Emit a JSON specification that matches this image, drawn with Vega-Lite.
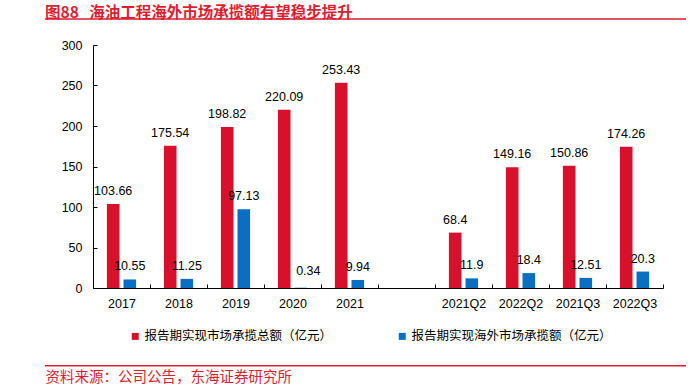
{
  "$schema": "https://vega.github.io/schema/vega-lite/v6.json",
  "autosize": {"type": "none"},
  "padding": {"left": 93, "top": 45, "right": 28, "bottom": 97},
  "width": 570,
  "height": 243,
  "background": "#ffffff",
  "config": {"view": {"stroke": null}},
  "title": {
    "text": "图88\u00a0\u00a0\u00a0海油工程海外市场承揽额有望稳步提升",
    "anchor": "start",
    "frame": "group",
    "dx": -48,
    "dy": 22,
    "offset": 7,
    "baseline": "alphabetic",
    "color": "#dc1e32",
    "font": "Noto Sans CJK SC",
    "fontSize": 15.5,
    "fontWeight": "bold"
  },
  "data": {
    "values": [
      {"period": "2017", "series": "报告期实现市场承揽总额（亿元）", "value": 103.66},
      {"period": "2017", "series": "报告期实现海外市场承揽额（亿元）", "value": 10.55},
      {"period": "2018", "series": "报告期实现市场承揽总额（亿元）", "value": 175.54},
      {"period": "2018", "series": "报告期实现海外市场承揽额（亿元）", "value": 11.25},
      {"period": "2019", "series": "报告期实现市场承揽总额（亿元）", "value": 198.82},
      {"period": "2019", "series": "报告期实现海外市场承揽额（亿元）", "value": 97.13},
      {"period": "2020", "series": "报告期实现市场承揽总额（亿元）", "value": 220.09},
      {"period": "2020", "series": "报告期实现海外市场承揽额（亿元）", "value": 0.34},
      {"period": "2021", "series": "报告期实现市场承揽总额（亿元）", "value": 253.43},
      {"period": "2021", "series": "报告期实现海外市场承揽额（亿元）", "value": 9.94},
      {"period": "2021Q2", "series": "报告期实现市场承揽总额（亿元）", "value": 68.4},
      {"period": "2021Q2", "series": "报告期实现海外市场承揽额（亿元）", "value": 11.9},
      {"period": "2022Q2", "series": "报告期实现市场承揽总额（亿元）", "value": 149.16},
      {"period": "2022Q2", "series": "报告期实现海外市场承揽额（亿元）", "value": 18.4},
      {"period": "2021Q3", "series": "报告期实现市场承揽总额（亿元）", "value": 150.86},
      {"period": "2021Q3", "series": "报告期实现海外市场承揽额（亿元）", "value": 12.51},
      {"period": "2022Q3", "series": "报告期实现市场承揽总额（亿元）", "value": 174.26},
      {"period": "2022Q3", "series": "报告期实现海外市场承揽额（亿元）", "value": 20.3}
    ]
  },
  "encoding": {
    "x": {
      "field": "period",
      "type": "nominal",
      "scale": {
        "domain": ["2017", "2018", "2019", "2020", "2021", " ", "2021Q2", "2022Q2", "2021Q3", "2022Q3"],
        "paddingInner": 0,
        "paddingOuter": 0
      },
      "axis": {
        "title": "资料来源：公司公告，东海证券研究所",
        "titleColor": "#dc1e32",
        "titleFont": "Noto Sans CJK SC",
        "titleFontSize": 14.5,
        "titleFontWeight": "normal",
        "titleX": -48,
        "titleY": 93,
        "titleAlign": "left",
        "titleBaseline": "alphabetic",
        "titleAngle": 0,
        "labelAngle": 0,
        "labelFont": "Liberation Sans",
        "labelFontSize": 12.5,
        "labelColor": "#000000",
        "labelPadding": 13,
        "tickSize": -4,
        "tickBand": "extent",
        "tickColor": "#000000",
        "domainColor": "#000000",
        "grid": false
      }
    },
    "xOffset": {
      "field": "series",
      "type": "nominal",
      "scale": {
        "domain": ["报告期实现市场承揽总额（亿元）", "报告期实现海外市场承揽额（亿元）"],
        "paddingInner": 0.241,
        "paddingOuter": 0.837
      }
    },
    "y": {
      "field": "value",
      "type": "quantitative",
      "scale": {"domain": [0, 300], "nice": false, "zero": true},
      "axis": {
        "title": null,
        "values": [0, 50, 100, 150, 200, 250, 300],
        "tickSize": -4,
        "labelPadding": 15,
        "labelFont": "Liberation Sans",
        "labelFontSize": 12.5,
        "labelColor": "#000000",
        "domainColor": "#000000",
        "tickColor": "#000000",
        "grid": false
      }
    }
  },
  "layer": [
    {
      "mark": {"type": "bar"},
      "encoding": {
        "color": {
          "field": "series",
          "type": "nominal",
          "scale": {
            "domain": ["报告期实现市场承揽总额（亿元）", "报告期实现海外市场承揽额（亿元）"],
            "range": ["#d8102b", "#0a6fc2"]
          },
          "legend": {
            "title": null,
            "orient": "none",
            "legendX": 36,
            "legendY": 285,
            "direction": "horizontal",
            "symbolType": "square",
            "symbolSize": 49,
            "symbolStrokeWidth": 0,
            "labelFont": "Noto Sans CJK SC",
            "labelFontSize": 12.5,
            "labelColor": "#000000",
            "labelOffset": 3,
            "labelLimit": 400,
            "columnPadding": 63
          }
        }
      }
    },
    {
      "transform": [{"filter": "datum.value >= 1"}],
      "mark": {"type": "text", "baseline": "alphabetic", "dy": -9, "font": "Liberation Sans", "fontSize": 12.5, "color": "#000000"},
      "encoding": {"text": {"field": "value", "type": "quantitative"}}
    },
    {
      "transform": [{"filter": "datum.value < 1"}],
      "mark": {"type": "text", "baseline": "alphabetic", "dy": -13, "dx": 7.5, "font": "Liberation Sans", "fontSize": 12.5, "color": "#000000"},
      "encoding": {"text": {"field": "value", "type": "quantitative"}}
    },
    {
      "data": {"values": [{"line": "top"}]},
      "mark": {"type": "rule", "color": "#dc1e32", "strokeWidth": 1.5},
      "encoding": {"x": {"value": -48}, "x2": {"value": 593}, "y": {"value": -26}, "xOffset": null}
    },
    {
      "data": {"values": [{"line": "bottom"}]},
      "mark": {"type": "rule", "color": "#dc1e32", "strokeWidth": 1.5},
      "encoding": {"x": {"value": -48}, "x2": {"value": 593}, "y": {"value": 320.7}, "xOffset": null}
    }
  ]
}
